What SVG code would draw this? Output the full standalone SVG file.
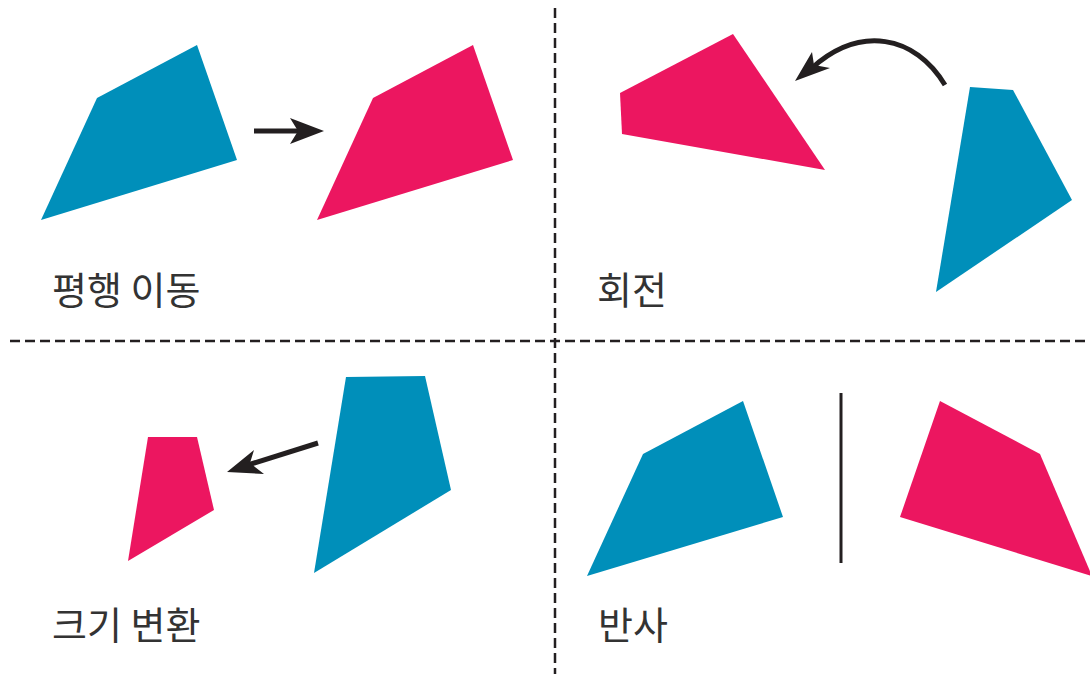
<svg xmlns="http://www.w3.org/2000/svg" width="1090" height="674" viewBox="0 0 1090 674">
<defs>
<style>
.blue{fill:#008fba}
.pink{fill:#ec1660}
.dash{stroke:#231f20;stroke-width:2.5;stroke-dasharray:10 5;fill:none}
.arr{stroke:#231f20;stroke-width:5;fill:none}
.head{fill:#231f20}
.lbl{font-family:"Noto Sans CJK KR","Noto Sans",sans-serif;font-size:38px;fill:#333}
</style>
</defs>
<rect width="1090" height="674" fill="#fff"/>
<g id="dividers">
<line class="dash" x1="10" y1="341" x2="1090" y2="341"/>
<line class="dash" x1="555" y1="8" x2="555" y2="674"/>
</g>
<g id="translate">
<polygon class="blue" points="41,220 97,98 197,45 237,160"/>
<polygon class="pink" points="317,220 373,98 473,45 513,160"/>
<text class="lbl" x="52" y="304">평행 이동</text>
</g>
<g id="rotate">
<polygon class="pink" points="620,93 622,134 825,170 733,34"/>
<polygon class="blue" points="970,87 1013,90 1072,200 936,292"/>
<text class="lbl" x="597" y="304">회전</text>
</g>
<g id="scale">
<polygon class="pink" points="148,437 197,437 214,510 128,561"/>
<polygon class="blue" points="346,377 425,376 451,490 314,573"/>
<text class="lbl" x="52" y="639">크기 변환</text>
</g>
<g id="reflect">
<polygon class="blue" points="587,576 643,454 743,401 783,517"/>
<polygon class="pink" points="940,401 1040,454 1092,576 900,517"/>
<line x1="841" y1="393" x2="841" y2="563" stroke="#231f20" stroke-width="3"/>
<text class="lbl" x="598" y="639">반사</text>
</g>
<g id="connectors">
<line class="arr" x1="254" y1="131" x2="300" y2="131"/>
<polygon class="head" points="324,131 290,118 298,131 290,144"/>
<path class="arr" d="M945,85 C915,35 860,25 812,68"/>
<polygon class="head" points="795,81 812,52 814,65 830,68"/>
<line class="arr" x1="318" y1="443" x2="248" y2="465"/>
<polygon class="head" points="227,472 254,450 250,463 264,474"/>
</g>
</svg>
